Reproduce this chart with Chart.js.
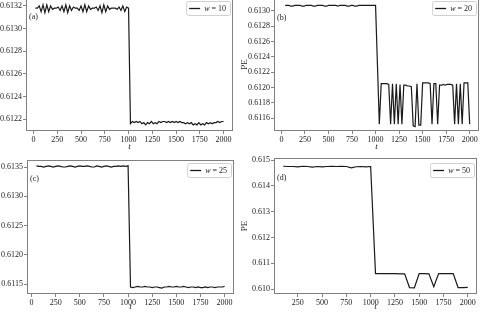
<!DOCTYPE html>
<html>
<head>
<meta charset="utf-8">
<script src="https://cdn.jsdelivr.net/npm/chart.js@4/dist/chart.umd.min.js"></script>
<style>
body { margin: 0; background: #fff; width: 483px; height: 312px; position: relative; overflow: hidden; }
canvas { position: absolute; }
</style>
</head>
<body>
<canvas id="pa" width="240" height="157" style="left:0;top:-2px"></canvas>
<canvas id="pb" width="243" height="157" style="left:240px;top:-2px"></canvas>
<canvas id="pc" width="240" height="157" style="left:0;top:155px"></canvas>
<canvas id="pd" width="243" height="157" style="left:240px;top:155px"></canvas>
<script>
// window sizes, one per panel
var windows = [10, 20, 25, 50];
var letters = ['(a)', '(b)', '(c)', '(d)'];

// tick labels
var xTicks = [0, 250, 500, 750, 1000, 1250, 1500, 1750, 2000];
var xTicksD = [250, 500, 750, 1000, 1250, 1500, 1750, 2000];
var yTicksA = [0.6122, 0.6124, 0.6126, 0.6128, 0.6130, 0.6132];
var yTicksB = [0.6116, 0.6118, 0.6120, 0.6122, 0.6124, 0.6126, 0.6128, 0.6130];
var yTicksC = [0.6115, 0.6120, 0.6125, 0.6130, 0.6135];
var yTicksD = [0.610, 0.611, 0.612, 0.613, 0.614, 0.615];

// PE series (a): t = 20..2000 every 20
var peA = [
  0.61318, 0.61318, 0.61320, 0.61315, 0.61321, 0.61314, 0.61321, 0.61315, 0.61320, 0.61317,
  0.61318, 0.61318, 0.61319, 0.61316, 0.61320, 0.61315, 0.61321, 0.61314, 0.61320, 0.61316,
  0.61319, 0.61318, 0.61318, 0.61316, 0.61320, 0.61315, 0.61321, 0.61315, 0.61320, 0.61317,
  0.61318, 0.61318, 0.61319, 0.61316, 0.61320, 0.61314, 0.61321, 0.61315, 0.61320, 0.61317,
  0.61318, 0.61318, 0.61318, 0.61317, 0.61319, 0.61316, 0.61320, 0.61315, 0.61319, 0.61318,
  0.61216, 0.61218, 0.61217, 0.61218, 0.61217, 0.61218, 0.61216, 0.61217, 0.61215, 0.61217,
  0.61216, 0.61218, 0.61216, 0.61217, 0.61216, 0.61218, 0.61217, 0.61218, 0.61218, 0.61217,
  0.61218, 0.61217, 0.61218, 0.61217, 0.61218, 0.61217, 0.61218, 0.61217, 0.61217, 0.61216,
  0.61217, 0.61216, 0.61217, 0.61215, 0.61216, 0.61215, 0.61217, 0.61215, 0.61216, 0.61215,
  0.61217, 0.61216, 0.61217, 0.61216, 0.61217, 0.61217, 0.61218, 0.61217, 0.61218, 0.61218
];

// PE series (b): t = 40..2000 every 20
var peB = [
  0.61307, 0.61307, 0.61307, 0.61306, 0.61306, 0.61307, 0.61307, 0.61307, 0.61307, 0.61306,
  0.61306, 0.61307, 0.61307, 0.61307, 0.61307, 0.61306, 0.61306, 0.61307, 0.61307, 0.61307,
  0.61307, 0.61306, 0.61306, 0.61307, 0.61307, 0.61307, 0.61307, 0.61307, 0.61306, 0.61307,
  0.61307, 0.61307, 0.61307, 0.61306, 0.61306, 0.61307, 0.61307, 0.61306, 0.61306, 0.61307,
  0.61307, 0.61307, 0.61307, 0.61307, 0.61307, 0.61307, 0.61307, 0.61307, 0.61307,
  0.61230, 0.61152, 0.61205, 0.61205, 0.61205, 0.61205, 0.61204, 0.61152, 0.61205, 0.61152,
  0.61205, 0.61152, 0.61204, 0.61152, 0.61203, 0.61203, 0.61202, 0.61202, 0.61201, 0.61150,
  0.61149, 0.61205, 0.61151, 0.61151, 0.61206, 0.61206, 0.61206, 0.61206, 0.61205, 0.61152,
  0.61205, 0.61205, 0.61152, 0.61203, 0.61203, 0.61204, 0.61203, 0.61204, 0.61204, 0.61204,
  0.61203, 0.61152, 0.61205, 0.61152, 0.61205, 0.61152, 0.61206, 0.61206, 0.61206, 0.61152
];

// PE series (c): t = 50..2000 every 25
var peC = [
  0.61352, 0.61351, 0.61351, 0.61350, 0.61351, 0.61352, 0.61351, 0.61350, 0.61351, 0.61352,
  0.61351, 0.61350, 0.61350, 0.61351, 0.61352, 0.61351, 0.61350, 0.61351, 0.61352, 0.61351,
  0.61351, 0.61352, 0.61351, 0.61350, 0.61350, 0.61352, 0.61351, 0.61350, 0.61351, 0.61352,
  0.61351, 0.61350, 0.61351, 0.61351, 0.61352, 0.61351, 0.61352, 0.61351, 0.61352,
  0.61145, 0.61144, 0.61145, 0.61146, 0.61145, 0.61145, 0.61146, 0.61145, 0.61145, 0.61144,
  0.61145, 0.61145, 0.61144, 0.61143, 0.61145, 0.61145, 0.61146, 0.61145, 0.61145, 0.61146,
  0.61145, 0.61145, 0.61146, 0.61145, 0.61144, 0.61145, 0.61145, 0.61144, 0.61145, 0.61144,
  0.61144, 0.61145, 0.61144, 0.61145, 0.61145, 0.61144, 0.61145, 0.61145, 0.61145, 0.61146
];

// PE series (d): t = 100..2000 every 50
var peD = [
  0.61476, 0.61475, 0.61475, 0.61474, 0.61476, 0.61475, 0.61473, 0.61475, 0.61474, 0.61475,
  0.61476, 0.61475, 0.61476, 0.61475, 0.61470, 0.61474, 0.61475, 0.61474, 0.61475,
  0.61060, 0.61060, 0.61060, 0.61060, 0.61060, 0.61059, 0.61059, 0.61006, 0.61005, 0.61060,
  0.61060, 0.61059, 0.61009, 0.61060, 0.61060, 0.61060, 0.61060, 0.61006, 0.61006, 0.61007
];

// sampling grid of each run
function grid(start, step, n) {
  var out = [];
  for (var i = 0; i < n; i++) out.push(start + i * step);
  return out;
}
var tA = grid(20, 20, peA.length);
var tB = grid(40, 20, peB.length);
var tC = grid(50, 25, peC.length);
var tD = grid(100, 50, peD.length);

var serif = 'Liberation Serif';

// box around the plot area, panel letter and legend drawn inside the axes
var axesDecor = {
  id: 'axesDecor',
  afterDatasetsDraw: function(chart, args, opts) {
    var ctx = chart.ctx, a = chart.chartArea;
    ctx.save();
    ctx.strokeStyle = '#808080';
    ctx.lineWidth = 1;
    ctx.strokeRect(a.left + 0.5, a.top + 0.5, a.right - a.left - 1, a.bottom - a.top - 1);

    ctx.fillStyle = '#222';
    ctx.font = '8px "' + serif + '"';
    ctx.textBaseline = 'middle';
    ctx.textAlign = 'left';
    ctx.fillText(opts.letter, a.left + 3, a.top + opts.letterY);

    // legend
    var italic = 'italic 8px "' + serif + '"';
    var upright = '8px "' + serif + '"';
    ctx.font = italic;
    var ww = ctx.measureText('w').width;
    ctx.font = upright;
    var rest = ' = ' + opts.w;
    var rw = ctx.measureText(rest).width;
    var bw = 3 + 11 + 4 + ww + rw + 4, bh = 14;
    var bx = a.right - 3 - bw, by = a.top + opts.legendY;
    ctx.beginPath();
    ctx.roundRect(bx + 0.5, by + 0.5, bw, bh, 2);
    ctx.fillStyle = 'rgba(255,255,255,0.85)';
    ctx.fill();
    ctx.strokeStyle = '#d0d0d0';
    ctx.stroke();
    ctx.beginPath();
    ctx.moveTo(bx + 3, by + bh / 2 + 0.5);
    ctx.lineTo(bx + 14, by + bh / 2 + 0.5);
    ctx.strokeStyle = '#1a1a1a';
    ctx.lineWidth = 1.3;
    ctx.stroke();
    ctx.fillStyle = '#222';
    ctx.font = italic;
    ctx.fillText('w', bx + 18, by + bh / 2 + 1);
    ctx.font = upright;
    ctx.fillText(rest, bx + 18 + ww, by + bh / 2 + 1);
    ctx.restore();
  }
};

function makePanel(id, idx, t, pe, cfg) {
  var tickFont = { family: serif, size: 8 };
  var tickGrid = { display: true, drawOnChartArea: false, drawTicks: true, tickLength: 3, color: '#666', lineWidth: 0.8 };
  new Chart(document.getElementById(id), {
    type: 'line',
    data: {
      datasets: [{
        label: 'w = ' + windows[idx],
        data: t.map(function(v, i) { return { x: v, y: pe[i] }; }),
        borderColor: '#1a1a1a',
        borderWidth: 1.2,
        pointRadius: 0,
        tension: 0,
        fill: false
      }]
    },
    options: {
      responsive: false,
      animation: false,
      layout: { padding: cfg.pad },
      plugins: {
        legend: { display: false },
        tooltip: { enabled: false },
        axesDecor: { letter: letters[idx], w: windows[idx], letterY: cfg.letterY, legendY: cfg.legendY }
      },
      scales: {
        x: {
          type: 'linear',
          min: cfg.xMin, max: cfg.xMax,
          afterBuildTicks: function(s) { s.ticks = cfg.xTicks.map(function(v) { return { value: v }; }); },
          afterFit: function(s) { s.height = cfg.xH; s.paddingLeft = 0; s.paddingRight = 0; },
          ticks: {
            font: tickFont, color: '#222', padding: 1, maxRotation: 0, autoSkip: false,
            callback: function(v) { return String(v); }
          },
          grid: tickGrid,
          border: { display: false },
          title: { display: true, text: 't', color: '#222', font: { family: serif, size: 9, style: 'italic' }, padding: { top: 0, bottom: cfg.tPad } }
        },
        y: {
          min: cfg.yMin, max: cfg.yMax,
          afterBuildTicks: function(s) { s.ticks = cfg.yTicks.map(function(v) { return { value: v }; }); },
          afterFit: function(s) { s.width = cfg.yW; s.paddingTop = 0; s.paddingBottom = 0; },
          ticks: {
            font: tickFont, color: '#222', padding: 1, autoSkip: false,
            callback: function(v) { return v.toFixed(cfg.dec); }
          },
          grid: tickGrid,
          border: { display: false },
          title: { display: cfg.peLabel, text: 'PE', color: '#222', font: { family: serif, size: 9, lineHeight: 1 }, padding: { top: 0, bottom: 0 } }
        }
      }
    },
    plugins: [axesDecor]
  });
}

makePanel('pa', 0, tA, peA, {
  pad: { left: 0, right: 7, top: 0, bottom: 0 }, xH: 24, yW: 26, tPad: 3,
  xMin: -79, xMax: 2099, xTicks: xTicks,
  yMin: 0.612096, yMax: 0.61327, yTicks: yTicksA, dec: 4,
  peLabel: false, letterY: 19, legendY: 3
});
makePanel('pb', 1, tB, peB, {
  pad: { left: 0, right: 4, top: 0, bottom: 0 }, xH: 24, yW: 34, tPad: 3,
  xMin: -79, xMax: 2099, xTicks: xTicks,
  yMin: 0.611433, yMax: 0.613167, yTicks: yTicksB, dec: 4,
  peLabel: true, letterY: 20, legendY: 3
});
makePanel('pc', 2, tC, peC, {
  pad: { left: 0, right: 6, top: 5, bottom: 0 }, xH: 18, yW: 27, tPad: 0,
  xMin: -47.5, xMax: 2097.5, xTicks: xTicks,
  yMin: 0.61133, yMax: 0.61362, yTicks: yTicksC, dec: 4,
  peLabel: false, letterY: 19, legendY: 3
});
makePanel('pd', 3, tD, peD, {
  pad: { left: 0, right: 6, top: 3, bottom: 0 }, xH: 18, yW: 34, tPad: 0,
  xMin: 5, xMax: 2095, xTicks: xTicksD,
  yMin: 0.60981, yMax: 0.61508, yTicks: yTicksD, dec: 3,
  peLabel: true, letterY: 20, legendY: 5
});
</script>
</body>
</html>
